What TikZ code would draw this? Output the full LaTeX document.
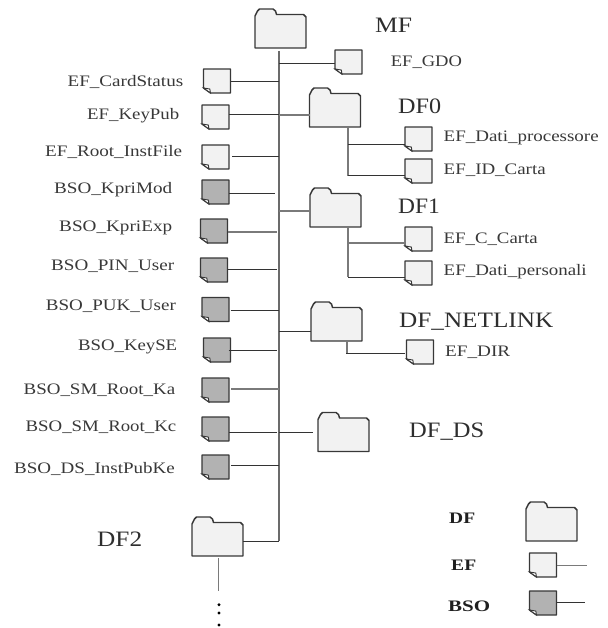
\documentclass[tikz,border=0pt]{standalone}
\usepackage{graphicx}
\usepackage{fontspec}
\setmainfont{Liberation Serif}
\tikzset{
  x=1pt,y=-1pt,
  shapeline/.style={draw=black!78,line width=1.45pt,line join=round},
  holder/.style={inner sep=0pt,outer sep=0pt},
  conn/.style={draw=black!80,line width=1pt},
  conngray/.style={draw=black!52,line width=1.3pt},
  trunk/.style={draw=black!58,line width=1.4pt},
  small/.style={inner sep=0pt,anchor=base west,text=black!78,font=\fontsize{16}{16}\selectfont},
  big/.style={inner sep=0pt,anchor=base west,text=black!82,font=\fontsize{22}{22}\selectfont},
  legend/.style={inner sep=0pt,anchor=base west,text=black!88,font=\bfseries\fontsize{16}{16}\selectfont},
}
% width in px, text: stretches the text sideways only
\newcommand{\fitw}[2]{\resizebox{#1pt}{\height}{#2}}
% name, left x, top y
\newcommand{\folderN}[3]{%
  \draw[shapeline,fill=black!5,shift={(#2,#3)}]
    (0,39)--(0,7)--(2.5,2)--(4.5,0)--(18,0)--(20.5,2)--(21.5,5.5)--(48.5,5.5)--(51,8)--(51,39)--cycle;
  \node[holder,minimum width=51pt,minimum height=39pt] (#1) at (#2+25.5,#3+19.5) {};}
% name, left x, top y, fill
\newcommand{\docN}[4]{%
  \draw[shapeline,fill=#4,shift={(#2,#3)}] (0,0)--(27,0)--(27,24)--(7,24)--(0,19)--cycle;
  \draw[draw=black!78,line width=0.9pt,fill=white,shift={(#2,#3)}] (0,19)--(6.3,20)--(7,24)--cycle;
  \node[holder,minimum width=27pt,minimum height=24pt] (#1) at (#2+13.5,#3+12) {};}
\newcommand{\efN}[3]{\docN{#1}{#2}{#3}{black!5}}
\newcommand{\bsoN}[3]{\docN{#1}{#2}{#3}{black!30}}
% style, doc name, y of the line, gap at doc, gap at trunk
\newcommand{\toTrunk}[5]{%
  \path (#2.east |- 0,#3) coordinate (tmpc);
  \draw[#1] ([xshift=#4pt]tmpc) -- ([xshift=-#5pt]tmpc -| tktop);}
\begin{document}
\begin{tikzpicture}
\useasboundingbox (0,0) rectangle (607,628);
% folders
\folderN{mf}{255}{9}
\folderN{dfzero}{309.5}{88}
\folderN{dfone}{310}{188}
\folderN{dfnet}{311}{302}
\folderN{dfds}{318}{412.5}
\folderN{dftwo}{192}{517}
\folderN{legdf}{526}{502}
% EF
\efN{gdo}{335}{50}
\efN{card}{203.5}{69}
\efN{keypub}{202}{105}
\efN{root}{202}{145}
\efN{dati}{405}{127}
\efN{idc}{405}{159}
\efN{ccarta}{405}{227}
\efN{pers}{405}{261}
\efN{dir}{406.5}{340}
\efN{legef}{529.5}{553}
% BSO
\bsoN{kmod}{202}{180}
\bsoN{kexp}{200.5}{219}
\bsoN{pin}{200.5}{258}
\bsoN{puk}{202}{297.5}
\bsoN{kse}{203.5}{338}
\bsoN{ka}{202}{378}
\bsoN{kc}{202}{417}
\bsoN{ds}{202}{455}
\bsoN{legbso}{529.5}{591}
% trunk
\coordinate (tktop) at (279,51);
\coordinate (tkbot) at (279,541);
\draw[trunk] (tktop) -- (tkbot);
\draw[conn] (dftwo.east |- tkbot) -- (tkbot);
% left branches
\toTrunk{conn}{card}{82}{0}{0}
\toTrunk{conn}{keypub}{115}{0}{0}
\toTrunk{conn}{root}{157}{3}{0}
\toTrunk{conn}{kmod}{193.7}{0}{4}
\toTrunk{conngray}{kexp}{232}{0}{2}
\toTrunk{conn}{pin}{269.5}{0}{2}
\toTrunk{conn}{puk}{310.5}{1.5}{0}
\toTrunk{conn}{kse}{350.5}{-2}{2}
\toTrunk{conngray}{ka}{389}{2}{0}
\toTrunk{conn}{kc}{432.5}{0}{2}
\toTrunk{conn}{ds}{465.5}{2}{0}
% right branches
\draw[conn] (tktop |- 0,64) -- (gdo.west |- 0,64);
\draw[conngray] (tktop |- 0,115) -- (dfzero.west |- 0,115);
\draw[conngray] (tktop |- 0,211) -- (dfone.west |- 0,211);
\draw[conn] (tktop |- 0,331) -- (dfnet.west |- 0,331);
\draw[conn] (tktop |- 0,432.5) -- ([xshift=-5pt]dfds.west |- 0,432.5);
% DF0 subtree
\coordinate (zbr) at (348,127);
\draw[conngray] (zbr) -- (348,176);
\draw[conn] (zbr |- 0,145) -- (dati.west |- 0,145);
\draw[conn] (zbr |- 0,176) -- (idc.west |- 0,176);
% DF1 subtree
\coordinate (obr) at (348,227);
\draw[conngray] (obr) -- (348,277);
\draw[conngray] (obr |- 0,243) -- (ccarta.west |- 0,243);
\draw[conn] (obr |- 0,277) -- (pers.west |- 0,277);
% NETLINK subtree
\coordinate (nbr) at (347,341);
\draw[conngray] (nbr) -- (347,354);
\draw[conn] (346,353) -- ([xshift=-2pt]dir.west |- 0,353);
% DF2 down
\coordinate (dnend) at (218.5,591);
\draw[conngray] ([yshift=-2pt]dftwo.south -| dnend) -- (dnend);
\fill[black] (219,604.7) circle (1.6pt) (219,613) circle (1.6pt) (219,625) circle (1.6pt);
% legend lines
\draw[conngray] (legef.east |- 0,565.5) -- (587,565.5);
\draw[conn] (legbso.east |- 0,602) -- (585,602);
% labels
\node[big] (tmf) at (375,33) {\fitw{37}{MF}};
\node[big] (tzero) at (398,113.5) {\fitw{43}{DF0}};
\node[big] (tone) at (398,213) {\fitw{41.7}{DF1}};
\node[big] (tnet) at (399,327) {\fitw{154}{DF\_NETLINK}};
\node[big] (tds) at (409,437) {\fitw{75}{DF\_DS}};
\node[big] (ttwo) at (97,546) {\fitw{45}{DF2}};
\node[small] (lgdo) at (390.7,66.5) {\fitw{71}{EF\_GDO}};
\node[small] (ldati) at (443.5,141.5) {\fitw{155}{EF\_Dati\_processore}};
\node[small] (lidc) at (443.5,175) {\fitw{102}{EF\_ID\_Carta}};
\node[small] (lcc) at (443.5,243) {\fitw{94}{EF\_C\_Carta}};
\node[small] (lpers) at (443.5,275) {\fitw{143}{EF\_Dati\_personali}};
\node[small] (ldir) at (445,356) {\fitw{65}{EF\_DIR}};
\node[small] (lcard) at (67.5,86.7) {\fitw{115.5}{EF\_CardStatus}};
\node[small] (lkp) at (87,120) {\fitw{92}{EF\_KeyPub}};
\node[small] (lroot) at (45,156.7) {\fitw{137}{EF\_Root\_InstFile}};
\node[small] (lkm) at (54,194) {\fitw{118}{BSO\_KpriMod}};
\node[small] (lke) at (59,231) {\fitw{113}{BSO\_KpriExp}};
\node[small] (lpin) at (51,270.7) {\fitw{123}{BSO\_PIN\_User}};
\node[small] (lpuk) at (45.7,310.7) {\fitw{130}{BSO\_PUK\_User}};
\node[small] (lkse) at (78,350) {\fitw{99}{BSO\_KeySE}};
\node[small] (lka) at (23.5,394) {\fitw{151.5}{BSO\_SM\_Root\_Ka}};
\node[small] (lkc) at (25.5,431.7) {\fitw{150.5}{BSO\_SM\_Root\_Kc}};
\node[small] (lds) at (14,473) {\fitw{160.7}{BSO\_DS\_InstPubKe}};
\node[legend] (ldf) at (449,523) {\fitw{26}{DF}};
\node[legend] (lef) at (451,570) {\fitw{25}{EF}};
\node[legend] (lbso) at (448,611.5) {\fitw{42}{BSO}};
\end{tikzpicture}
\end{document}
